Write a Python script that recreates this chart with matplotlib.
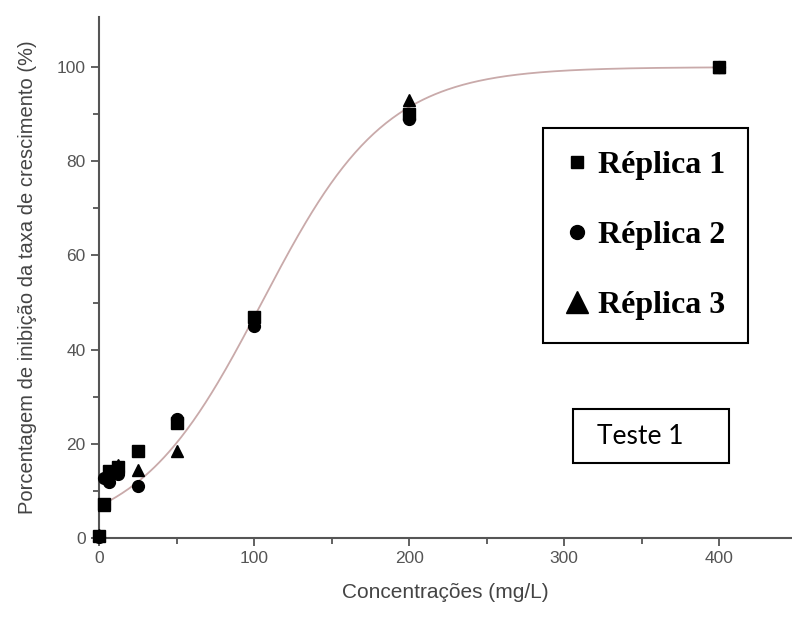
import numpy as np
import matplotlib.pyplot as plt
from matplotlib.lines import Line2D
from matplotlib.patches import Rectangle

# concentrations (mg/L) and % inhibition for each replicate
conc = [0, 3.125, 6.25, 12.5, 25, 50, 100, 200, 400]
rep1 = [0.5, 7.2, 14.2, 15.0, 18.5, 24.5, 47.0, 90.0, 100.0]
rep2 = [0.3, 12.8, 11.8, 13.5, 11.0, 25.3, 45.0, 89.0, 100.0]
rep3 = [0.6, 7.0, 13.0, 15.5, 14.5, 18.5, 46.0, 93.0, 100.0]

# Boltzmann fit parameters
A1, A2, x0, dx = 0.0, 100.0, 105.0, 40.0

axis_gray = "#555555"

fig = plt.figure(figsize=(7.92, 6.23), dpi=100)
ax = fig.add_axes([0.125, 0.1364, 0.875, 0.836])

xfit = np.linspace(3.125, 400, 400)
yfit = A2 + (A1 - A2) / (1 + np.exp((xfit - x0) / dx))
ax.plot(xfit, yfit, color="#c9aaaa", lw=1.3, zorder=1)

ax.plot(conc, rep1, "s", color="black", ms=8, ls="none", clip_on=False, zorder=3)
ax.plot(conc, rep2, "o", color="black", ms=8.5, ls="none", clip_on=False, zorder=3)
ax.plot(conc, rep3, "^", color="black", ms=9, ls="none", clip_on=False, zorder=3)

ax.set_xlim(0, 447)
ax.set_ylim(0, 110.6)
ax.set_xticks([0, 100, 200, 300, 400])
ax.set_xticks([50, 150, 250, 350], minor=True)
ax.set_yticks([0, 20, 40, 60, 80, 100])
ax.set_yticks([10, 30, 50, 70, 90], minor=True)

for s in ["top", "right"]:
    ax.spines[s].set_visible(False)
for s in ["left", "bottom"]:
    ax.spines[s].set_color(axis_gray)
    ax.spines[s].set_linewidth(1.5)

ax.tick_params(which="major", length=6, width=1.3, color=axis_gray,
               labelsize=12.5, labelcolor=axis_gray)
ax.tick_params(which="minor", length=4, width=1.3, color=axis_gray)
for lab in ax.get_xticklabels() + ax.get_yticklabels():
    lab.set_family("Liberation Sans")

ax.set_xlabel("Concentrações (mg/L)", fontsize=15, color="#444444",
              family="Liberation Sans", labelpad=12)
ax.set_ylabel("Porcentagem de inibição da taxa de crescimento (%)", fontsize=14.5,
              color="#444444", family="Liberation Sans", labelpad=14)

handles = [
    Line2D([], [], marker="s", color="black", ls="none", ms=9),
    Line2D([], [], marker="o", color="black", ls="none", ms=10),
    Line2D([], [], marker="^", color="black", ls="none", ms=16),
]
leg = ax.legend(handles, ["Réplica 1", "Réplica 2", "Réplica 3"],
                loc="upper left", bbox_to_anchor=(0.641, 0.787),
                prop={"family": "Liberation Serif", "weight": "bold", "size": 23},
                frameon=True, fancybox=False, framealpha=1, edgecolor="black",
                handlelength=0.7, handletextpad=0.3, labelspacing=1.26,
                borderpad=0.72, borderaxespad=0)
leg.get_frame().set_linewidth(1.5)

# "Teste 1" label box
fig.add_artist(Rectangle((0.7235, 0.2568), 0.197, 0.0867, transform=fig.transFigure,
                         fc="white", ec="black", lw=1.5))
fig.text(0.7538, 0.300, "Teste 1", fontsize=19, family="Lato", ha="left", va="center")

fig.savefig("out.png", dpi=100)
